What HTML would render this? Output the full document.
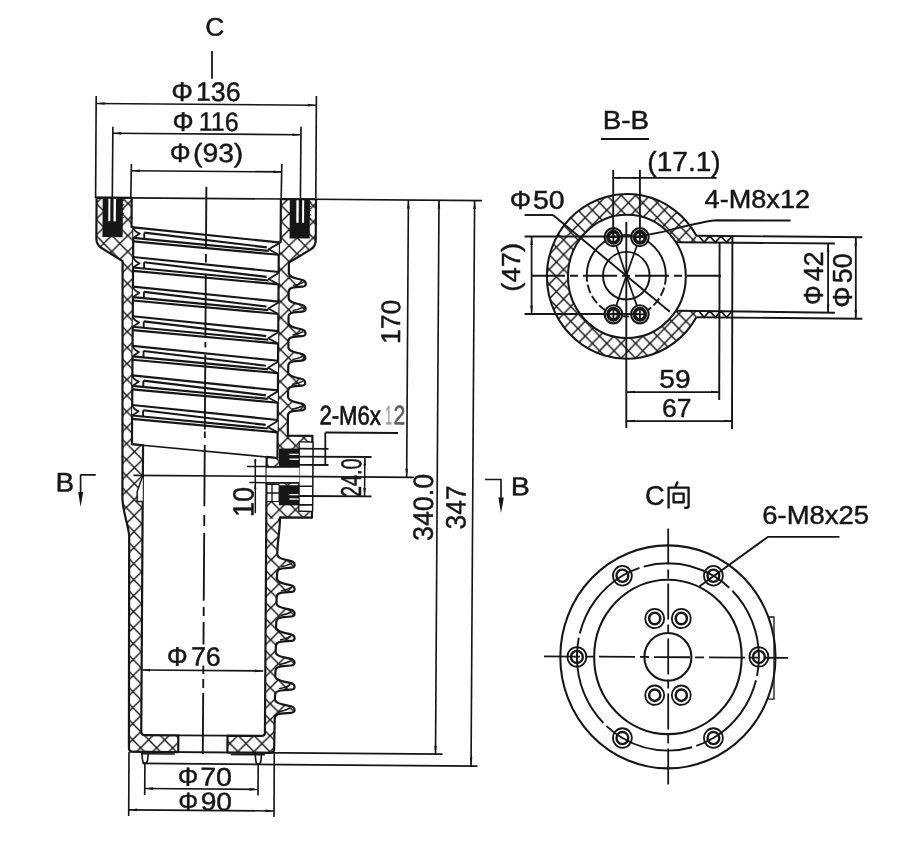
<!DOCTYPE html>
<html><head><meta charset="utf-8"><title>drawing</title>
<style>
html,body{margin:0;padding:0;background:#fff;}
svg{display:block;filter:grayscale(1) blur(0.35px);}
text{font-family:"Liberation Sans",sans-serif;}
</style></head><body>
<svg width="900" height="842" viewBox="0 0 900 842" stroke="#161616" fill="none" stroke-linecap="butt" stroke-linejoin="round">
<defs>
<pattern id="hx" width="16" height="16" patternUnits="userSpaceOnUse" patternTransform="translate(0.5 11.6)">
<path d="M0 0L16 16M16 0L0 16" stroke="#161616" stroke-width="1.45" fill="none"/>
</pattern>
<pattern id="hxa" width="16" height="16" patternUnits="userSpaceOnUse" patternTransform="translate(0.1 12.2)"><path d="M0 0L16 16M16 0L0 16" stroke="#161616" stroke-width="1.45" fill="none"/></pattern>
<pattern id="hxb" width="16" height="16" patternUnits="userSpaceOnUse" patternTransform="translate(15.6 3.5)"><path d="M0 0L16 16M16 0L0 16" stroke="#161616" stroke-width="1.45" fill="none"/></pattern>
<pattern id="hxc" width="16" height="16" patternUnits="userSpaceOnUse" patternTransform="translate(9.4 13)"><path d="M0 0L16 16M16 0L0 16" stroke="#161616" stroke-width="1.45" fill="none"/></pattern>
<pattern id="hxd" width="16" height="16" patternUnits="userSpaceOnUse" patternTransform="translate(1.4 15.2)"><path d="M0 0L16 16M16 0L0 16" stroke="#161616" stroke-width="1.45" fill="none"/></pattern>
<clipPath id="cu"><rect x="0" y="0" width="900" height="518"/></clipPath>
<clipPath id="cl"><rect x="0" y="518" width="900" height="400"/></clipPath>
<pattern id="hx2" width="14.4" height="14.8" patternUnits="userSpaceOnUse" patternTransform="translate(2 3)">
<path d="M0 0L14.4 14.8M14.4 0L0 14.8" stroke="#161616" stroke-width="1.45" fill="none"/>
</pattern>
</defs>
<rect x="0" y="0" width="900" height="842" fill="#fff" stroke="none"/>
<g transform="matrix(1 0.0079 -0.0063 1 1.25 -1.63)">
<path d="M96.60000000000001 198.4 L96.60000000000001 239 Q96.60000000000001 245.5 101.50000000000001 248.6 L123.00000000000001 261.8 L124.30000000000001 498 C124.30000000000001 511 129.8 523 131.3 536 L132.4 748.5 Q132.4 752.3 136.3 752.3 L181.70000000000002 752.3 L181.70000000000002 735.5 L147.8 735.5 Q144.60000000000002 735.5 144.60000000000002 732.5 L144.60 445.76 L133.50 444.8 L133.50 228 L131.70000000000002 227.5 L131.70000000000002 198.4 Z" fill="url(#hxa)" stroke="none"/>
<path d="M96.60000000000001 198.4 L96.60000000000001 239 Q96.60000000000001 245.5 101.50000000000001 248.6 L123.00000000000001 261.8 L124.30000000000001 498 C124.30000000000001 511 129.8 523 131.3 536 L132.4 748.5 Q132.4 752.3 136.3 752.3 L181.70000000000002 752.3 L181.70000000000002 735.5 L147.8 735.5 Q144.60000000000002 735.5 144.60000000000002 732.5 L144.60 445.76 L133.50 444.8 L133.50 228 L131.70000000000002 227.5 L131.70000000000002 198.4 Z" stroke-width="2.21" fill="none" />
<path d="M316.0 198.4 L316.0 239 Q316.0 245.5 311.1 248.6 L289.3 261.8 L289.30 272.80 C289.80 275.80 293.30 277.10 297.80 278.00 L302.30 279.00 C307.30 279.90 307.90 286.10 302.80 285.80 L294.30 286.70 C291.30 287.10 289.30 288.30 289.30 291.30 L289.30 297.80 C289.80 300.80 293.30 302.10 297.80 303.00 L302.30 304.00 C307.30 304.90 307.90 311.10 302.80 310.80 L294.30 311.70 C291.30 312.10 289.30 313.30 289.30 316.30 L289.30 322.30 C289.80 325.30 293.30 326.60 297.80 327.50 L302.30 328.50 C307.30 329.40 307.90 335.60 302.80 335.30 L294.30 336.20 C291.30 336.60 289.30 337.80 289.30 340.80 L289.30 346.80 C289.80 349.80 293.30 351.10 297.80 352.00 L302.30 353.00 C307.30 353.90 307.90 360.10 302.80 359.80 L294.30 360.70 C291.30 361.10 289.30 362.30 289.30 365.30 L289.30 371.80 C289.80 374.80 293.30 376.10 297.80 377.00 L302.30 378.00 C307.30 378.90 307.90 385.10 302.80 384.80 L294.30 385.70 C291.30 386.10 289.30 387.30 289.30 390.30 L289.30 396.50 C289.80 399.50 293.30 400.80 297.80 401.70 L302.30 402.70 C307.30 403.60 307.90 409.80 302.80 409.50 L294.30 410.40 C291.30 410.80 289.30 412.00 289.30 415.00 L289.3 435 L313.9 435 L313.9 516.8 L282.0 516.8 C282.0 530 279.9 540 279.6 550 L279.46 554.00 C279.98 557.00 283.56 558.30 288.18 559.20 L292.79 560.20 C297.91 561.10 298.53 567.30 293.30 567.00 L284.59 567.90 C281.51 568.30 279.46 569.50 279.46 572.50 L279.22 578.20 C279.74 581.20 283.41 582.50 288.12 583.40 L292.84 584.40 C298.07 585.30 298.70 591.50 293.36 591.20 L284.46 592.10 C281.31 592.50 279.22 593.70 279.22 596.70 L278.97 602.80 C279.51 605.80 283.25 607.10 288.07 608.00 L292.89 609.00 C298.24 609.90 298.88 616.10 293.42 615.80 L284.32 616.70 C281.11 617.10 278.97 618.30 278.97 621.30 L278.72 627.20 C279.27 630.20 283.10 631.50 288.02 632.40 L292.94 633.40 C298.40 634.30 299.06 640.50 293.48 640.20 L284.19 641.10 C280.91 641.50 278.72 642.70 278.72 645.70 L278.48 651.80 C279.03 654.80 282.94 656.10 287.96 657.00 L292.98 658.00 C298.57 658.90 299.23 665.10 293.54 664.80 L284.06 665.70 C280.71 666.10 278.48 667.30 278.48 670.30 L278.23 676.00 C278.80 679.00 282.79 680.30 287.91 681.20 L293.03 682.20 C298.73 683.10 299.41 689.30 293.60 689.00 L283.92 689.90 C280.51 690.30 278.23 691.50 278.23 694.50 L278.00 699.10 C278.58 702.10 282.64 703.40 287.86 704.30 L293.08 705.30 C298.88 706.20 299.58 712.40 293.66 712.10 L283.80 713.00 C280.32 713.40 278.00 714.60 278.00 717.60 L277.6 748.5 Q277.6 752.3 273.8 752.3 L230.9 752.3 L230.9 735.5 L264.8 735.5 Q268.3 735.5 268.3 732.5 L268.30 456.47 L279.10 457.41 L279.10 242 L280.9 241.5 L280.9 198.4 Z" fill="url(#hxc)" stroke="none" clip-path="url(#cu)"/>
<path d="M316.0 198.4 L316.0 239 Q316.0 245.5 311.1 248.6 L289.3 261.8 L289.30 272.80 C289.80 275.80 293.30 277.10 297.80 278.00 L302.30 279.00 C307.30 279.90 307.90 286.10 302.80 285.80 L294.30 286.70 C291.30 287.10 289.30 288.30 289.30 291.30 L289.30 297.80 C289.80 300.80 293.30 302.10 297.80 303.00 L302.30 304.00 C307.30 304.90 307.90 311.10 302.80 310.80 L294.30 311.70 C291.30 312.10 289.30 313.30 289.30 316.30 L289.30 322.30 C289.80 325.30 293.30 326.60 297.80 327.50 L302.30 328.50 C307.30 329.40 307.90 335.60 302.80 335.30 L294.30 336.20 C291.30 336.60 289.30 337.80 289.30 340.80 L289.30 346.80 C289.80 349.80 293.30 351.10 297.80 352.00 L302.30 353.00 C307.30 353.90 307.90 360.10 302.80 359.80 L294.30 360.70 C291.30 361.10 289.30 362.30 289.30 365.30 L289.30 371.80 C289.80 374.80 293.30 376.10 297.80 377.00 L302.30 378.00 C307.30 378.90 307.90 385.10 302.80 384.80 L294.30 385.70 C291.30 386.10 289.30 387.30 289.30 390.30 L289.30 396.50 C289.80 399.50 293.30 400.80 297.80 401.70 L302.30 402.70 C307.30 403.60 307.90 409.80 302.80 409.50 L294.30 410.40 C291.30 410.80 289.30 412.00 289.30 415.00 L289.3 435 L313.9 435 L313.9 516.8 L282.0 516.8 C282.0 530 279.9 540 279.6 550 L279.46 554.00 C279.98 557.00 283.56 558.30 288.18 559.20 L292.79 560.20 C297.91 561.10 298.53 567.30 293.30 567.00 L284.59 567.90 C281.51 568.30 279.46 569.50 279.46 572.50 L279.22 578.20 C279.74 581.20 283.41 582.50 288.12 583.40 L292.84 584.40 C298.07 585.30 298.70 591.50 293.36 591.20 L284.46 592.10 C281.31 592.50 279.22 593.70 279.22 596.70 L278.97 602.80 C279.51 605.80 283.25 607.10 288.07 608.00 L292.89 609.00 C298.24 609.90 298.88 616.10 293.42 615.80 L284.32 616.70 C281.11 617.10 278.97 618.30 278.97 621.30 L278.72 627.20 C279.27 630.20 283.10 631.50 288.02 632.40 L292.94 633.40 C298.40 634.30 299.06 640.50 293.48 640.20 L284.19 641.10 C280.91 641.50 278.72 642.70 278.72 645.70 L278.48 651.80 C279.03 654.80 282.94 656.10 287.96 657.00 L292.98 658.00 C298.57 658.90 299.23 665.10 293.54 664.80 L284.06 665.70 C280.71 666.10 278.48 667.30 278.48 670.30 L278.23 676.00 C278.80 679.00 282.79 680.30 287.91 681.20 L293.03 682.20 C298.73 683.10 299.41 689.30 293.60 689.00 L283.92 689.90 C280.51 690.30 278.23 691.50 278.23 694.50 L278.00 699.10 C278.58 702.10 282.64 703.40 287.86 704.30 L293.08 705.30 C298.88 706.20 299.58 712.40 293.66 712.10 L283.80 713.00 C280.32 713.40 278.00 714.60 278.00 717.60 L277.6 748.5 Q277.6 752.3 273.8 752.3 L230.9 752.3 L230.9 735.5 L264.8 735.5 Q268.3 735.5 268.3 732.5 L268.30 456.47 L279.10 457.41 L279.10 242 L280.9 241.5 L280.9 198.4 Z" fill="url(#hxd)" stroke="none" clip-path="url(#cl)"/>
<path d="M316.0 198.4 L316.0 239 Q316.0 245.5 311.1 248.6 L289.3 261.8 L289.30 272.80 C289.80 275.80 293.30 277.10 297.80 278.00 L302.30 279.00 C307.30 279.90 307.90 286.10 302.80 285.80 L294.30 286.70 C291.30 287.10 289.30 288.30 289.30 291.30 L289.30 297.80 C289.80 300.80 293.30 302.10 297.80 303.00 L302.30 304.00 C307.30 304.90 307.90 311.10 302.80 310.80 L294.30 311.70 C291.30 312.10 289.30 313.30 289.30 316.30 L289.30 322.30 C289.80 325.30 293.30 326.60 297.80 327.50 L302.30 328.50 C307.30 329.40 307.90 335.60 302.80 335.30 L294.30 336.20 C291.30 336.60 289.30 337.80 289.30 340.80 L289.30 346.80 C289.80 349.80 293.30 351.10 297.80 352.00 L302.30 353.00 C307.30 353.90 307.90 360.10 302.80 359.80 L294.30 360.70 C291.30 361.10 289.30 362.30 289.30 365.30 L289.30 371.80 C289.80 374.80 293.30 376.10 297.80 377.00 L302.30 378.00 C307.30 378.90 307.90 385.10 302.80 384.80 L294.30 385.70 C291.30 386.10 289.30 387.30 289.30 390.30 L289.30 396.50 C289.80 399.50 293.30 400.80 297.80 401.70 L302.30 402.70 C307.30 403.60 307.90 409.80 302.80 409.50 L294.30 410.40 C291.30 410.80 289.30 412.00 289.30 415.00 L289.3 435 L313.9 435 L313.9 516.8 L282.0 516.8 C282.0 530 279.9 540 279.6 550 L279.46 554.00 C279.98 557.00 283.56 558.30 288.18 559.20 L292.79 560.20 C297.91 561.10 298.53 567.30 293.30 567.00 L284.59 567.90 C281.51 568.30 279.46 569.50 279.46 572.50 L279.22 578.20 C279.74 581.20 283.41 582.50 288.12 583.40 L292.84 584.40 C298.07 585.30 298.70 591.50 293.36 591.20 L284.46 592.10 C281.31 592.50 279.22 593.70 279.22 596.70 L278.97 602.80 C279.51 605.80 283.25 607.10 288.07 608.00 L292.89 609.00 C298.24 609.90 298.88 616.10 293.42 615.80 L284.32 616.70 C281.11 617.10 278.97 618.30 278.97 621.30 L278.72 627.20 C279.27 630.20 283.10 631.50 288.02 632.40 L292.94 633.40 C298.40 634.30 299.06 640.50 293.48 640.20 L284.19 641.10 C280.91 641.50 278.72 642.70 278.72 645.70 L278.48 651.80 C279.03 654.80 282.94 656.10 287.96 657.00 L292.98 658.00 C298.57 658.90 299.23 665.10 293.54 664.80 L284.06 665.70 C280.71 666.10 278.48 667.30 278.48 670.30 L278.23 676.00 C278.80 679.00 282.79 680.30 287.91 681.20 L293.03 682.20 C298.73 683.10 299.41 689.30 293.60 689.00 L283.92 689.90 C280.51 690.30 278.23 691.50 278.23 694.50 L278.00 699.10 C278.58 702.10 282.64 703.40 287.86 704.30 L293.08 705.30 C298.88 706.20 299.58 712.40 293.66 712.10 L283.80 713.00 C280.32 713.40 278.00 714.60 278.00 717.60 L277.6 748.5 Q277.6 752.3 273.8 752.3 L230.9 752.3 L230.9 735.5 L264.8 735.5 Q268.3 735.5 268.3 732.5 L268.30 456.47 L279.10 457.41 L279.10 242 L280.9 241.5 L280.9 198.4 Z" stroke-width="2.21" fill="none" />
<path d="M293.30 284.90 Q299.30 283.80 304.30 281.30" stroke-width="1.49" fill="none" />
<path d="M293.30 309.90 Q299.30 308.80 304.30 306.30" stroke-width="1.49" fill="none" />
<path d="M293.30 334.40 Q299.30 333.30 304.30 330.80" stroke-width="1.49" fill="none" />
<path d="M293.30 358.90 Q299.30 357.80 304.30 355.30" stroke-width="1.49" fill="none" />
<path d="M293.30 383.90 Q299.30 382.80 304.30 380.30" stroke-width="1.49" fill="none" />
<path d="M293.30 408.60 Q299.30 407.50 304.30 405.00" stroke-width="1.49" fill="none" />
<path d="M283.46 566.10 Q289.46 565.00 294.46 562.50" stroke-width="1.49" fill="none" />
<path d="M283.22 590.30 Q289.22 589.20 294.22 586.70" stroke-width="1.49" fill="none" />
<path d="M282.97 614.90 Q288.97 613.80 293.97 611.30" stroke-width="1.49" fill="none" />
<path d="M282.72 639.30 Q288.72 638.20 293.72 635.70" stroke-width="1.49" fill="none" />
<path d="M282.48 663.90 Q288.48 662.80 293.48 660.30" stroke-width="1.49" fill="none" />
<path d="M282.23 688.10 Q288.23 687.00 293.23 684.50" stroke-width="1.49" fill="none" />
<path d="M282.00 711.20 Q288.00 710.10 293.00 707.60" stroke-width="1.49" fill="none" />
<line x1="96.60" y1="198.40" x2="482.00" y2="198.40" stroke-width="1.69" />
<line x1="133.30" y1="752.30" x2="446.00" y2="752.30" stroke-width="1.79" />
<line x1="146.00" y1="763.90" x2="481.00" y2="763.90" stroke-width="1.79" />
<path d="M145.2 752.3 L146.0 760 Q146.39999999999998 763.9 148.5 763.9 Q150.8 763.9 151.20000000000002 760 L151.8 752.3" stroke-width="1.64" fill="none" />
<path d="M258.5 752.3 L259.3 760 Q259.7 763.9 261.8 763.9 Q264.1 763.9 264.5 760 L265.1 752.3" stroke-width="1.64" fill="none" />
<line x1="144.30" y1="754.30" x2="178.30" y2="754.30" stroke-width="1.49" />
<line x1="234.30" y1="754.30" x2="268.30" y2="754.30" stroke-width="1.49" />
<line x1="181.70" y1="735.50" x2="230.90" y2="735.50" stroke-width="1.79" />
<rect x="102.70" y="197.8" width="20.20" height="40.0" fill="#161616" stroke="none"/>
<rect x="108.40" y="199.6" width="2.00" height="22.5" fill="#fff" stroke="none"/>
<rect x="113.60" y="199.6" width="2.40" height="22.5" fill="#fff" stroke="none"/>
<line x1="121.90" y1="201.40" x2="124.30" y2="201.40" stroke-width="1.2" />
<line x1="121.90" y1="205.60" x2="124.30" y2="205.60" stroke-width="1.2" />
<line x1="121.90" y1="209.80" x2="124.30" y2="209.80" stroke-width="1.2" />
<line x1="121.90" y1="214.00" x2="124.30" y2="214.00" stroke-width="1.2" />
<line x1="121.90" y1="218.20" x2="124.30" y2="218.20" stroke-width="1.2" />
<rect x="289.80" y="197.8" width="20.20" height="40.0" fill="#161616" stroke="none"/>
<rect x="296.40" y="199.6" width="2.40" height="22.5" fill="#fff" stroke="none"/>
<rect x="302.20" y="199.6" width="2.00" height="22.5" fill="#fff" stroke="none"/>
<line x1="309.00" y1="201.40" x2="311.40" y2="201.40" stroke-width="1.2" />
<line x1="309.00" y1="205.60" x2="311.40" y2="205.60" stroke-width="1.2" />
<line x1="309.00" y1="209.80" x2="311.40" y2="209.80" stroke-width="1.2" />
<line x1="309.00" y1="214.00" x2="311.40" y2="214.00" stroke-width="1.2" />
<line x1="309.00" y1="218.20" x2="311.40" y2="218.20" stroke-width="1.2" />
<path d="M133.50 228.00 L279.10 241.80" stroke-width="2.15" fill="none" />
<path d="M144.50 233.13 L267.10 246.86" stroke-width="2.15" fill="none" />
<path d="M133.50 238.50 L269.10 250.42" stroke-width="2.15" fill="none" />
<path d="M133.50 241.90 L279.10 254.20" stroke-width="2.15" fill="none" />
<path d="M133.50 228.00 Q134.50 232.00 140.00 234.12 L133.50 238.50" stroke-width="1.75" fill="#fff" />
<line x1="144.50" y1="233.13" x2="144.50" y2="239.47" stroke-width="1.87" />
<path d="M279.10 242.80 L269.10 248.85 L279.10 254.20" stroke-width="1.75" fill="#fff" />
<path d="M133.50 257.60 L279.10 271.40" stroke-width="2.15" fill="none" />
<path d="M144.50 262.73 L267.10 276.46" stroke-width="2.15" fill="none" />
<path d="M133.50 268.10 L269.10 280.02" stroke-width="2.15" fill="none" />
<path d="M133.50 271.50 L279.10 283.80" stroke-width="2.15" fill="none" />
<path d="M133.50 257.60 Q134.50 261.60 140.00 263.72 L133.50 268.10" stroke-width="1.75" fill="#fff" />
<line x1="144.50" y1="262.73" x2="144.50" y2="269.07" stroke-width="1.87" />
<path d="M279.10 272.40 L269.10 278.45 L279.10 283.80" stroke-width="1.75" fill="#fff" />
<path d="M133.50 287.20 L279.10 301.00" stroke-width="2.15" fill="none" />
<path d="M144.50 292.33 L267.10 306.06" stroke-width="2.15" fill="none" />
<path d="M133.50 297.70 L269.10 309.62" stroke-width="2.15" fill="none" />
<path d="M133.50 301.10 L279.10 313.40" stroke-width="2.15" fill="none" />
<path d="M133.50 287.20 Q134.50 291.20 140.00 293.32 L133.50 297.70" stroke-width="1.75" fill="#fff" />
<line x1="144.50" y1="292.33" x2="144.50" y2="298.67" stroke-width="1.87" />
<path d="M279.10 302.00 L269.10 308.05 L279.10 313.40" stroke-width="1.75" fill="#fff" />
<path d="M133.50 316.80 L279.10 330.60" stroke-width="2.15" fill="none" />
<path d="M144.50 321.93 L267.10 335.66" stroke-width="2.15" fill="none" />
<path d="M133.50 327.30 L269.10 339.22" stroke-width="2.15" fill="none" />
<path d="M133.50 330.70 L279.10 343.00" stroke-width="2.15" fill="none" />
<path d="M133.50 316.80 Q134.50 320.80 140.00 322.92 L133.50 327.30" stroke-width="1.75" fill="#fff" />
<line x1="144.50" y1="321.93" x2="144.50" y2="328.27" stroke-width="1.87" />
<path d="M279.10 331.60 L269.10 337.65 L279.10 343.00" stroke-width="1.75" fill="#fff" />
<path d="M133.50 346.40 L279.10 360.20" stroke-width="2.15" fill="none" />
<path d="M144.50 351.53 L267.10 365.26" stroke-width="2.15" fill="none" />
<path d="M133.50 356.90 L269.10 368.82" stroke-width="2.15" fill="none" />
<path d="M133.50 360.30 L279.10 372.60" stroke-width="2.15" fill="none" />
<path d="M133.50 346.40 Q134.50 350.40 140.00 352.52 L133.50 356.90" stroke-width="1.75" fill="#fff" />
<line x1="144.50" y1="351.53" x2="144.50" y2="357.87" stroke-width="1.87" />
<path d="M279.10 361.20 L269.10 367.25 L279.10 372.60" stroke-width="1.75" fill="#fff" />
<path d="M133.50 376.00 L279.10 389.80" stroke-width="2.15" fill="none" />
<path d="M144.50 381.13 L267.10 394.86" stroke-width="2.15" fill="none" />
<path d="M133.50 386.50 L269.10 398.42" stroke-width="2.15" fill="none" />
<path d="M133.50 389.90 L279.10 402.20" stroke-width="2.15" fill="none" />
<path d="M133.50 376.00 Q134.50 380.00 140.00 382.12 L133.50 386.50" stroke-width="1.75" fill="#fff" />
<line x1="144.50" y1="381.13" x2="144.50" y2="387.47" stroke-width="1.87" />
<path d="M279.10 390.80 L269.10 396.85 L279.10 402.20" stroke-width="1.75" fill="#fff" />
<path d="M133.50 405.60 L279.10 419.40" stroke-width="2.15" fill="none" />
<path d="M144.50 410.73 L267.10 424.46" stroke-width="2.15" fill="none" />
<path d="M133.50 416.10 L269.10 428.02" stroke-width="2.15" fill="none" />
<path d="M133.50 419.50 L279.10 431.80" stroke-width="2.15" fill="none" />
<path d="M133.50 405.60 Q134.50 409.60 140.00 411.72 L133.50 416.10" stroke-width="1.75" fill="#fff" />
<line x1="144.50" y1="410.73" x2="144.50" y2="417.07" stroke-width="1.87" />
<path d="M279.10 420.40 L269.10 426.45 L279.10 431.80" stroke-width="1.75" fill="#fff" />
<line x1="133.50" y1="444.80" x2="279.10" y2="457.41" stroke-width="1.69" />
<path d="M144.60 476 L139.05 492.04 L139.05 502.04 L144.60 502.04" stroke-width="1.49" fill="#fff" />
<rect x="300.73" y="441.16" width="13.84" height="69.39" fill="#fff" stroke-width="1.4" />
<rect x="268.29" y="466.82" width="32.70" height="15.04" fill="#fff" stroke-width="1.2" stroke="none"/>
<line x1="267.69" y1="466.43" x2="300.89" y2="466.16" stroke-width="1.82" />
<line x1="267.79" y1="482.33" x2="300.99" y2="482.06" stroke-width="1.82" />
<rect x="280.57" y="447.82" width="20.52" height="18.34" fill="#161616" stroke-width="1.2" stroke="none"/>
<rect x="280.81" y="484.62" width="20.53" height="20.04" fill="#161616" stroke-width="1.2" stroke="none"/>
<rect x="291.11" y="453.04" width="9.11" height="1.33" fill="#fff" stroke-width="1.2" stroke="none"/>
<rect x="291.14" y="457.84" width="9.11" height="1.33" fill="#fff" stroke-width="1.2" stroke="none"/>
<rect x="291.36" y="493.24" width="9.11" height="1.33" fill="#fff" stroke-width="1.2" stroke="none"/>
<rect x="291.39" y="497.64" width="9.11" height="1.33" fill="#fff" stroke-width="1.2" stroke="none"/>
<rect x="268.80" y="484.02" width="12.11" height="16.91" fill="#fff" stroke-width="1.0" />
<line x1="273.80" y1="483.98" x2="273.91" y2="500.98" stroke-width="1.35" />
<line x1="268.86" y1="492.52" x2="280.86" y2="492.42" stroke-width="1.35" />
<line x1="300.58" y1="447.87" x2="330.08" y2="447.83" stroke-width="1.79" />
<line x1="300.68" y1="464.07" x2="330.18" y2="464.03" stroke-width="1.79" />
<line x1="300.81" y1="485.47" x2="313.81" y2="485.36" stroke-width="1.64" />
<line x1="300.93" y1="504.07" x2="313.93" y2="503.96" stroke-width="1.64" />
<line x1="135.24" y1="475.87" x2="415.76" y2="475.66" stroke-width="1.64" />
<line x1="300.63" y1="455.87" x2="373.13" y2="455.69" stroke-width="1.79" />
<line x1="300.87" y1="495.27" x2="373.38" y2="495.09" stroke-width="1.79" />
<line x1="366.43" y1="455.75" x2="366.43" y2="495.15" stroke-width="1.49" />
<path d="M366.43 455.75 L367.73 464.25 L365.13 464.25 Z" fill="#161616" stroke="none"/>
<path d="M366.43 495.15 L365.13 486.65 L367.73 486.65 Z" fill="#161616" stroke="none"/>
<line x1="326.77" y1="431.56" x2="399.48" y2="431.48" stroke-width="1.79" />
<line x1="326.77" y1="431.56" x2="326.98" y2="464.06" stroke-width="1.79" />
<line x1="256.94" y1="458.61" x2="257.28" y2="512.91" stroke-width="1.49" />
<line x1="248.69" y1="466.08" x2="267.69" y2="466.13" stroke-width="1.49" />
<line x1="251.09" y1="482.16" x2="267.79" y2="482.23" stroke-width="1.49" />
<path d="M256.99 466.11 L255.89 459.61 L258.09 459.61 Z" fill="#161616" stroke="none"/>
<path d="M257.09 482.21 L258.19 488.71 L255.99 488.71 Z" fill="#161616" stroke="none"/>
<line x1="206.30" y1="186.70" x2="206.30" y2="247.70" stroke-width="1.87" />
<line x1="206.30" y1="254.00" x2="206.30" y2="262.60" stroke-width="1.87" />
<line x1="206.30" y1="274.40" x2="206.30" y2="336.80" stroke-width="1.87" />
<line x1="206.30" y1="342.00" x2="206.30" y2="347.60" stroke-width="1.87" />
<line x1="206.30" y1="354.60" x2="206.30" y2="429.40" stroke-width="1.87" />
<line x1="206.30" y1="431.50" x2="206.30" y2="438.00" stroke-width="1.87" />
<line x1="206.30" y1="445.00" x2="206.30" y2="506.30" stroke-width="1.87" />
<line x1="206.30" y1="515.00" x2="206.30" y2="526.00" stroke-width="1.87" />
<line x1="206.30" y1="533.00" x2="206.30" y2="600.70" stroke-width="1.87" />
<line x1="206.30" y1="607.00" x2="206.30" y2="616.00" stroke-width="1.87" />
<line x1="206.30" y1="622.00" x2="206.30" y2="644.50" stroke-width="1.87" />
<line x1="206.30" y1="665.60" x2="206.30" y2="674.00" stroke-width="1.87" />
<line x1="206.30" y1="679.00" x2="206.30" y2="688.00" stroke-width="1.87" />
<line x1="206.30" y1="693.00" x2="206.30" y2="754.00" stroke-width="1.87" />
<line x1="95.60" y1="104.37" x2="315.80" y2="104.37" stroke-width="1.64" />
<path d="M95.60 104.37 L104.10 103.07 L104.10 105.67 Z" fill="#161616" stroke="none"/>
<path d="M315.80 104.37 L307.30 105.67 L307.30 103.07 Z" fill="#161616" stroke="none"/>
<line x1="95.55" y1="96.87" x2="95.60" y2="198.87" stroke-width="1.64" />
<line x1="315.75" y1="95.13" x2="315.80" y2="197.13" stroke-width="1.64" />
<line x1="112.49" y1="134.04" x2="300.59" y2="134.04" stroke-width="1.64" />
<path d="M112.49 134.04 L120.99 132.74 L120.99 135.34 Z" fill="#161616" stroke="none"/>
<path d="M300.59 134.04 L292.09 135.34 L292.09 132.74 Z" fill="#161616" stroke="none"/>
<line x1="112.45" y1="127.44" x2="112.30" y2="199.74" stroke-width="1.64" />
<line x1="300.55" y1="125.95" x2="300.40" y2="198.25" stroke-width="1.64" />
<line x1="131.23" y1="171.29" x2="281.63" y2="171.29" stroke-width="1.64" />
<path d="M131.23 171.29 L139.73 169.99 L139.73 172.59 Z" fill="#161616" stroke="none"/>
<path d="M281.63 171.29 L273.13 172.59 L273.13 169.99 Z" fill="#161616" stroke="none"/>
<line x1="131.18" y1="164.59" x2="130.80" y2="198.59" stroke-width="1.64" />
<line x1="281.58" y1="163.40" x2="281.20" y2="197.41" stroke-width="1.64" />
<line x1="211.07" y1="50.95" x2="211.25" y2="78.65" stroke-width="1.79" />
<line x1="408.40" y1="198.40" x2="408.40" y2="475.60" stroke-width="1.64" />
<path d="M408.40 198.40 L409.70 206.90 L407.10 206.90 Z" fill="#161616" stroke="none"/>
<path d="M408.40 475.60 L407.10 467.10 L409.70 467.10 Z" fill="#161616" stroke="none"/>
<line x1="439.00" y1="198.40" x2="439.00" y2="752.30" stroke-width="1.64" />
<path d="M439.00 198.40 L440.30 206.90 L437.70 206.90 Z" fill="#161616" stroke="none"/>
<path d="M439.00 752.30 L437.70 743.80 L440.30 743.80 Z" fill="#161616" stroke="none"/>
<line x1="474.60" y1="198.40" x2="474.60" y2="763.90" stroke-width="1.64" />
<path d="M474.60 198.40 L475.90 206.90 L473.30 206.90 Z" fill="#161616" stroke="none"/>
<path d="M474.60 763.90 L473.30 755.40 L475.90 755.40 Z" fill="#161616" stroke="none"/>
<line x1="148.42" y1="788.98" x2="261.72" y2="788.98" stroke-width="1.64" />
<path d="M148.42 788.98 L156.92 787.68 L156.92 790.28 Z" fill="#161616" stroke="none"/>
<path d="M261.72 788.98 L253.22 790.28 L253.22 787.68 Z" fill="#161616" stroke="none"/>
<line x1="148.46" y1="763.48" x2="148.46" y2="795.48" stroke-width="1.64" />
<line x1="261.76" y1="763.59" x2="261.76" y2="795.09" stroke-width="1.64" />
<line x1="132.55" y1="810.41" x2="277.86" y2="810.41" stroke-width="1.64" />
<path d="M132.55 810.41 L141.05 809.11 L141.05 811.71 Z" fill="#161616" stroke="none"/>
<path d="M277.86 810.41 L269.36 811.71 L269.36 809.11 Z" fill="#161616" stroke="none"/>
<line x1="132.49" y1="752.61" x2="132.59" y2="816.61" stroke-width="1.64" />
<line x1="277.79" y1="752.46" x2="277.90" y2="816.46" stroke-width="1.64" />
<line x1="144.57" y1="670.51" x2="266.27" y2="670.51" stroke-width="1.64" />
<path d="M144.57 670.51 L153.07 669.21 L153.07 671.81 Z" fill="#161616" stroke="none"/>
<path d="M266.27 670.51 L257.77 671.81 L257.77 669.21 Z" fill="#161616" stroke="none"/>
<line x1="82.14" y1="475.79" x2="97.54" y2="475.67" stroke-width="1.69" />
<line x1="82.34" y1="475.79" x2="82.47" y2="495.99" stroke-width="1.69" />
<path d="M82.54 507.99 L80.04 492.99 L85.04 492.99 Z" fill="#161616" stroke="none"/>
<line x1="486.77" y1="477.30" x2="503.37" y2="477.16" stroke-width="1.69" />
<line x1="502.77" y1="477.17" x2="502.90" y2="497.67" stroke-width="1.69" />
<path d="M502.98 510.67 L500.23 495.17 L505.73 495.17 Z" fill="#161616" stroke="none"/>
<text transform="translate(204.16 35.50) scale(1.036 1)" font-size="25.29" fill="#161616" stroke="#161616" stroke-width="0.45">C</text>
<text transform="translate(170.59 101.06) scale(1.011 1)" font-size="26.86" fill="#161616" stroke="#161616" stroke-width="0.45">Φ</text>
<text transform="translate(195.38 100.86) scale(0.995 1)" font-size="26.86" fill="#161616" stroke="#161616" stroke-width="0.45">136</text>
<text transform="translate(172.12 130.95) scale(0.989 1)" font-size="26.71" fill="#161616" stroke="#161616" stroke-width="0.45">Φ</text>
<text transform="translate(198.40 130.74) scale(0.934 1)" font-size="26.71" fill="#161616" stroke="#161616" stroke-width="0.45">116</text>
<text transform="translate(169.63 162.07) scale(1.000 1)" font-size="26.14" fill="#161616" stroke="#161616" stroke-width="0.45">Φ</text>
<text transform="translate(192.88 161.89) scale(1.079 1)" font-size="26.14" fill="#161616" stroke="#161616" stroke-width="0.45">(93)</text>
<text transform="translate(169.80 665.90) scale(0.989 1)" font-size="26.57" fill="#161616" stroke="#161616" stroke-width="0.45">Φ</text>
<text transform="translate(193.90 665.71) scale(1.009 1)" font-size="26.57" fill="#161616" stroke="#161616" stroke-width="0.45">76</text>
<text transform="translate(181.49 785.71) scale(0.994 1)" font-size="25.71" fill="#161616" stroke="#161616" stroke-width="0.45">Φ</text>
<text transform="translate(203.97 785.53) scale(1.109 1)" font-size="25.71" fill="#161616" stroke="#161616" stroke-width="0.45">70</text>
<text transform="translate(182.19 810.51) scale(0.976 1)" font-size="25.43" fill="#161616" stroke="#161616" stroke-width="0.45">Φ</text>
<text transform="translate(204.59 810.33) scale(1.105 1)" font-size="25.43" fill="#161616" stroke="#161616" stroke-width="0.45">90</text>
<text transform="translate(57.42 492.67) scale(1.031 1)" font-size="27.00" fill="#161616" stroke="#161616" stroke-width="0.45">B</text>
<text transform="translate(512.58 492.77) scale(1.100 1)" font-size="26.00" fill="#161616" stroke="#161616" stroke-width="0.45">B</text>
<text transform="translate(320.92 423.39) scale(0.826 1)" font-size="26.71" fill="#161616" stroke="#161616" stroke-width="0.75">2-M6x</text>
<text transform="translate(386.72 422.88) scale(0.453 1)" font-size="26.71" fill="#a0a0a0" stroke="#a0a0a0" stroke-width="0.6">1</text>
<text transform="translate(394.97 422.81) scale(0.790 1)" font-size="26.71" fill="#606060" stroke="#606060" stroke-width="0.6">2</text>
<text transform="translate(400.90 342.47) rotate(-90) scale(0.982 1)" font-size="27.14" fill="#161616" stroke="#161616" stroke-width="0.45">170</text>
<text transform="translate(434.85 539.08) rotate(-90) scale(0.951 1)" font-size="28.14" fill="#161616" stroke="#161616" stroke-width="0.45">340.0</text>
<text transform="translate(467.58 527.40) rotate(-90) scale(0.934 1)" font-size="28.14" fill="#161616" stroke="#161616" stroke-width="0.45">347</text>
<text transform="translate(362.87 495.77) rotate(-90) scale(0.687 1)" font-size="28.86" fill="#161616" stroke="#161616" stroke-width="0.45">24.0</text>
<text transform="translate(255.49 516.64) rotate(-90) scale(0.915 1)" font-size="29.43" fill="#161616" stroke="#161616" stroke-width="0.45">10</text>
</g>
<g id="bb">
<path d="M696.52 235.8 A80.0 82.4 0 1 0 696.35 317.3 L696.35 310.7 L675.82 310.7 A58.9 61.6 0 1 1 675.89 242.2 L696.52 242.2 Z" fill="url(#hx2)" stroke="none"/>
<path d="M696.52 235.8 A80.0 82.4 0 1 0 696.35 317.3" stroke-width="2.07" fill="none" />
<path d="M698.52 235.79 L704.12 242.23 L709.72 235.88 L715.32 242.33 L720.92 235.98 L726.52 242.43 L732.12 236.07" stroke-width="1.75" fill="none" />
<path d="M698.52 310.69 L704.12 317.33 L709.72 310.78 L715.32 317.43 L720.92 310.88 L726.52 317.53 L732.12 310.97" stroke-width="1.75" fill="none" />
<ellipse cx="626.90" cy="276.40" rx="58.90" ry="61.60" stroke-width="2.07" fill="none" />
<path d="M586.6999999999999 275.7 A39.6 40.8 0 0 1 665.9 275.7" stroke-width="1.93" fill="none" />
<path d="M665.9 275.7 A39.6 40.8 0 0 1 586.6999999999999 275.7" stroke-width="1.93" fill="none" stroke-dasharray="9 3"/>
<ellipse cx="626.30" cy="275.70" rx="23.30" ry="23.80" stroke-width="1.93" fill="none" />
<line x1="626.30" y1="275.70" x2="613.40" y2="237.20" stroke-width="1.75" />
<line x1="626.30" y1="275.70" x2="639.90" y2="237.20" stroke-width="1.75" />
<line x1="626.30" y1="275.70" x2="613.40" y2="314.30" stroke-width="1.75" />
<line x1="626.30" y1="275.70" x2="639.90" y2="314.30" stroke-width="1.75" />
<ellipse cx="613.40" cy="237.20" rx="8.80" ry="9.10" stroke-width="2.07" fill="#fff" />
<ellipse cx="613.40" cy="237.20" rx="5.40" ry="5.60" stroke-width="3.73" fill="none" />
<line x1="609.40" y1="237.20" x2="617.40" y2="237.20" stroke-width="1.79" />
<line x1="613.40" y1="233.20" x2="613.40" y2="241.20" stroke-width="1.79" />
<ellipse cx="639.90" cy="237.20" rx="8.80" ry="9.10" stroke-width="2.07" fill="#fff" />
<ellipse cx="639.90" cy="237.20" rx="5.40" ry="5.60" stroke-width="3.73" fill="none" />
<line x1="635.90" y1="237.20" x2="643.90" y2="237.20" stroke-width="1.79" />
<line x1="639.90" y1="233.20" x2="639.90" y2="241.20" stroke-width="1.79" />
<ellipse cx="613.40" cy="314.30" rx="8.80" ry="9.10" stroke-width="2.07" fill="#fff" />
<ellipse cx="613.40" cy="314.30" rx="5.40" ry="5.60" stroke-width="3.73" fill="none" />
<line x1="609.40" y1="314.30" x2="617.40" y2="314.30" stroke-width="1.79" />
<line x1="613.40" y1="310.30" x2="613.40" y2="318.30" stroke-width="1.79" />
<ellipse cx="639.90" cy="314.30" rx="8.80" ry="9.10" stroke-width="2.07" fill="#fff" />
<ellipse cx="639.90" cy="314.30" rx="5.40" ry="5.60" stroke-width="3.73" fill="none" />
<line x1="635.90" y1="314.30" x2="643.90" y2="314.30" stroke-width="1.79" />
<line x1="639.90" y1="310.30" x2="639.90" y2="318.30" stroke-width="1.79" />
<line x1="626.30" y1="222.00" x2="626.30" y2="428.00" stroke-width="1.9" />
<line x1="531.00" y1="275.70" x2="722.00" y2="275.70" stroke-width="1.9" stroke-dasharray="34 5 8 5"/>
<line x1="524.60" y1="236.60" x2="640.00" y2="236.60" stroke-width="1.98" />
<line x1="524.60" y1="313.90" x2="640.00" y2="313.90" stroke-width="1.98" />
<line x1="531.60" y1="236.50" x2="531.60" y2="313.90" stroke-width="1.75" />
<path d="M531.60 236.50 L532.90 245.00 L530.30 245.00 Z" fill="#161616" stroke="none"/>
<path d="M531.60 313.90 L530.30 305.40 L532.90 305.40 Z" fill="#161616" stroke="none"/>
<line x1="613.20" y1="169.80" x2="613.20" y2="236.00" stroke-width="1.9" />
<line x1="639.90" y1="169.80" x2="639.90" y2="236.00" stroke-width="1.9" />
<line x1="612.60" y1="177.80" x2="716.60" y2="177.80" stroke-width="1.75" />
<path d="M613.20 177.80 L620.20 176.70 L620.20 178.90 Z" fill="#161616" stroke="none"/>
<path d="M639.90 177.80 L632.90 178.90 L632.90 176.70 Z" fill="#161616" stroke="none"/>
<line x1="524.60" y1="215.00" x2="553.00" y2="215.00" stroke-width="1.9" />
<line x1="553.00" y1="215.00" x2="669.80" y2="311.80" stroke-width="1.9" />
<path d="M640 236.3 L664 231.6 Q700 222 716 220.3 L790.6 220.6" stroke-width="1.98" fill="none" />
<line x1="696.52" y1="235.80" x2="862.40" y2="237.20" stroke-width="1.93" />
<line x1="675.89" y1="242.20" x2="834.90" y2="243.50" stroke-width="1.93" />
<line x1="675.82" y1="310.70" x2="834.90" y2="312.70" stroke-width="1.93" />
<line x1="696.35" y1="317.30" x2="862.40" y2="318.70" stroke-width="1.93" />
<line x1="719.60" y1="242.20" x2="719.20" y2="400.00" stroke-width="1.93" />
<line x1="732.40" y1="235.80" x2="732.00" y2="429.00" stroke-width="1.93" />
<line x1="828.10" y1="243.40" x2="828.10" y2="312.70" stroke-width="1.83" />
<path d="M828.10 243.40 L829.40 251.90 L826.80 251.90 Z" fill="#161616" stroke="none"/>
<path d="M828.10 312.70 L826.80 304.20 L829.40 304.20 Z" fill="#161616" stroke="none"/>
<line x1="855.80" y1="237.20" x2="855.80" y2="318.60" stroke-width="1.83" />
<path d="M855.80 237.20 L857.10 245.70 L854.50 245.70 Z" fill="#161616" stroke="none"/>
<path d="M855.80 318.60 L854.50 310.10 L857.10 310.10 Z" fill="#161616" stroke="none"/>
<line x1="626.30" y1="392.00" x2="719.60" y2="392.00" stroke-width="1.75" />
<path d="M626.30 392.00 L634.80 390.70 L634.80 393.30 Z" fill="#161616" stroke="none"/>
<path d="M719.60 392.00 L711.10 393.30 L711.10 390.70 Z" fill="#161616" stroke="none"/>
<line x1="626.30" y1="421.00" x2="732.40" y2="421.00" stroke-width="1.75" />
<path d="M626.30 421.00 L634.80 419.70 L634.80 422.30 Z" fill="#161616" stroke="none"/>
<path d="M732.40 421.00 L723.90 422.30 L723.90 419.70 Z" fill="#161616" stroke="none"/>
<text transform="translate(602.67 128.50) scale(1.082 1)" font-size="25.71" fill="#161616" stroke="#161616" stroke-width="0.45">B-B</text>
<line x1="601.00" y1="139.00" x2="649.00" y2="139.00" stroke-width="1.93" />
<text transform="translate(647.31 170.70) scale(1.025 1)" font-size="27.43" fill="#161616" stroke="#161616" stroke-width="0.45">(17.1)</text>
<text transform="translate(509.82 208.50) scale(1.039 1)" font-size="25.86" fill="#161616" stroke="#161616" stroke-width="0.45">Φ</text>
<text transform="translate(532.96 208.50) scale(1.104 1)" font-size="25.86" fill="#161616" stroke="#161616" stroke-width="0.45">50</text>
<text transform="translate(704.62 207.50) scale(1.054 1)" font-size="25.71" fill="#161616" stroke="#161616" stroke-width="0.45">4-M8x12</text>
<text transform="translate(659.27 388.20) scale(1.084 1)" font-size="26.00" fill="#161616" stroke="#161616" stroke-width="0.45">59</text>
<text transform="translate(661.98 416.70) scale(1.011 1)" font-size="26.14" fill="#161616" stroke="#161616" stroke-width="0.45">67</text>
<text transform="translate(520.10 291.65) rotate(-90) scale(1.038 1)" font-size="26.43" fill="#161616" stroke="#161616" stroke-width="0.45">(47)</text>
<text transform="translate(823.10 305.06) rotate(-90) scale(0.919 1)" font-size="27.00" fill="#161616" stroke="#161616" stroke-width="0.45">Φ</text>
<text transform="translate(823.10 281.48) rotate(-90) scale(1.006 1)" font-size="27.00" fill="#161616" stroke="#161616" stroke-width="0.45">42</text>
<text transform="translate(851.90 307.77) rotate(-90) scale(0.989 1)" font-size="27.00" fill="#161616" stroke="#161616" stroke-width="0.45">Φ</text>
<text transform="translate(851.90 283.17) rotate(-90) scale(0.989 1)" font-size="27.00" fill="#161616" stroke="#161616" stroke-width="0.45">50</text>
</g>
<g id="cv">
<ellipse cx="667.90" cy="656.90" rx="107.60" ry="111.50" stroke-width="2.07" fill="none" />
<ellipse cx="667.90" cy="656.90" rx="91.00" ry="93.70" stroke-width="1.93" fill="none" pathLength="6" stroke-dasharray="0.2 0.045 0.755 0"/>
<ellipse cx="667.90" cy="656.90" rx="73.75" ry="77.20" stroke-width="2.07" fill="none" />
<ellipse cx="667.90" cy="656.90" rx="23.50" ry="23.90" stroke-width="2.07" fill="none" />
<path d="M768.3 617 L774 617 L774 699.2 L768.3 699.2" stroke-width="1.3" fill="none"/>
<ellipse cx="758.90" cy="656.90" rx="9.50" ry="9.80" stroke-width="1.83" fill="none" />
<ellipse cx="758.90" cy="656.90" rx="5.90" ry="6.10" stroke-width="2.35" fill="none" />
<ellipse cx="713.40" cy="738.05" rx="9.50" ry="9.80" stroke-width="1.83" fill="none" />
<ellipse cx="713.40" cy="738.05" rx="5.90" ry="6.10" stroke-width="2.35" fill="none" />
<ellipse cx="622.40" cy="738.05" rx="9.50" ry="9.80" stroke-width="1.83" fill="none" />
<ellipse cx="622.40" cy="738.05" rx="5.90" ry="6.10" stroke-width="2.35" fill="none" />
<ellipse cx="576.90" cy="656.90" rx="9.50" ry="9.80" stroke-width="1.83" fill="none" />
<ellipse cx="576.90" cy="656.90" rx="5.90" ry="6.10" stroke-width="2.35" fill="none" />
<ellipse cx="622.40" cy="575.75" rx="9.50" ry="9.80" stroke-width="1.83" fill="none" />
<ellipse cx="622.40" cy="575.75" rx="5.90" ry="6.10" stroke-width="2.35" fill="none" />
<ellipse cx="713.40" cy="575.75" rx="9.50" ry="9.80" stroke-width="1.83" fill="none" />
<ellipse cx="713.40" cy="575.75" rx="5.90" ry="6.10" stroke-width="2.35" fill="none" />
<ellipse cx="654.70" cy="618.50" rx="9.50" ry="9.70" stroke-width="1.83" fill="#fff" />
<ellipse cx="654.70" cy="618.50" rx="5.60" ry="5.70" stroke-width="2.48" fill="none" />
<ellipse cx="681.30" cy="618.50" rx="9.50" ry="9.70" stroke-width="1.83" fill="#fff" />
<ellipse cx="681.30" cy="618.50" rx="5.60" ry="5.70" stroke-width="2.48" fill="none" />
<ellipse cx="654.70" cy="695.20" rx="9.50" ry="9.70" stroke-width="1.83" fill="#fff" />
<ellipse cx="654.70" cy="695.20" rx="5.60" ry="5.70" stroke-width="2.48" fill="none" />
<ellipse cx="681.30" cy="695.20" rx="9.50" ry="9.70" stroke-width="1.83" fill="#fff" />
<ellipse cx="681.30" cy="695.20" rx="5.60" ry="5.70" stroke-width="2.48" fill="none" />
<line x1="544.00" y1="656.30" x2="788.00" y2="657.90" stroke-width="1.79" stroke-dasharray="36 5 9 5"/>
<line x1="668.20" y1="528.50" x2="668.20" y2="785.70" stroke-width="1.79" stroke-dasharray="36 5 9 5"/>
<path d="M699.3 586.5 L767.8 536.9 L839.4 536.9" stroke-width="1.9" fill="none" />
<text transform="translate(645.03 504.80) scale(0.980 1)" font-size="27.86" fill="#161616" stroke="#161616" stroke-width="0.45">C</text>
<text transform="translate(762.33 524.40) scale(1.044 1)" font-size="26.29" fill="#161616" stroke="#161616" stroke-width="0.45">6-M8x25</text>
<path d="M677.8 481.6 L675.2 487.2 M668.6 508.4 L668.6 487.6 L688.6 487.6 L688.6 505.8 Q688.6 507.8 686.4 507.8 L684.2 507.6 M673.6 493.6 L683.6 493.6 L683.6 502.2 L673.6 502.2 Z" stroke-width="2.35" fill="none" />
</g>
</svg>
</body></html>
